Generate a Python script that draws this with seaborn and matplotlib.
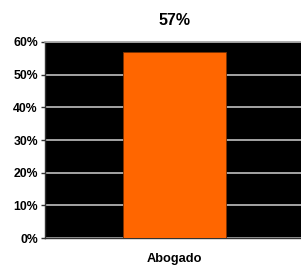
import matplotlib
matplotlib.use("Agg")
import matplotlib.pyplot as plt
import seaborn as sns
import pandas as pd

categories = ["Abogado"]
values = [57]
yticks = [0, 10, 20, 30, 40, 50, 60]

sns.set_style("white")
plt.rcParams['font.family'] = ['Liberation Sans', 'DejaVu Sans']
plt.rcParams['text.color'] = 'black'
plt.rcParams['xtick.color'] = 'black'
plt.rcParams['ytick.color'] = 'black'

df = pd.DataFrame({"cat": categories, "val": values})

fig = plt.figure(figsize=(3.01, 2.69), dpi=100)
ax = fig.add_axes([0.149, 0.115, 0.86, 0.729])
ax.set_facecolor("black")

sns.barplot(data=df, x="cat", y="val", color="#FF6600", width=0.4,
            edgecolor="#7a3000", linewidth=0.6, saturation=1, ax=ax, zorder=3)

ax.set_ylim(0, 60)
ax.set_xlim(-0.5, 0.5)
ax.set_yticks(yticks)
ax.set_yticklabels([f"{t}%" for t in yticks], fontsize=8.8, fontweight="bold", color="black")
ax.set_xticks([0])
ax.set_xticklabels(categories, fontsize=9.2, fontweight="bold", color="black")
ax.set_xlabel("")
ax.set_ylabel("")
ax.yaxis.grid(True, color="#c0c0c0", linewidth=1.2, zorder=1)
ax.set_axisbelow(True)
ax.tick_params(axis="y", length=3, width=1, color="#333333", pad=2, left=True, direction="out")
ax.tick_params(axis="x", length=0, pad=11)
ax.spines["top"].set_visible(True)
ax.spines["top"].set_color("#a0a0a0")
ax.spines["top"].set_linewidth(1.2)
ax.spines["right"].set_visible(False)
ax.spines["left"].set_color("#333333")
ax.spines["left"].set_linewidth(1)
ax.spines["bottom"].set_color("#333333")
ax.spines["bottom"].set_linewidth(1)

ax.set_title(f"{values[0]}%", fontsize=11.5, fontweight="bold", pad=12, color="black")

fig.savefig("out.png", dpi=100)
